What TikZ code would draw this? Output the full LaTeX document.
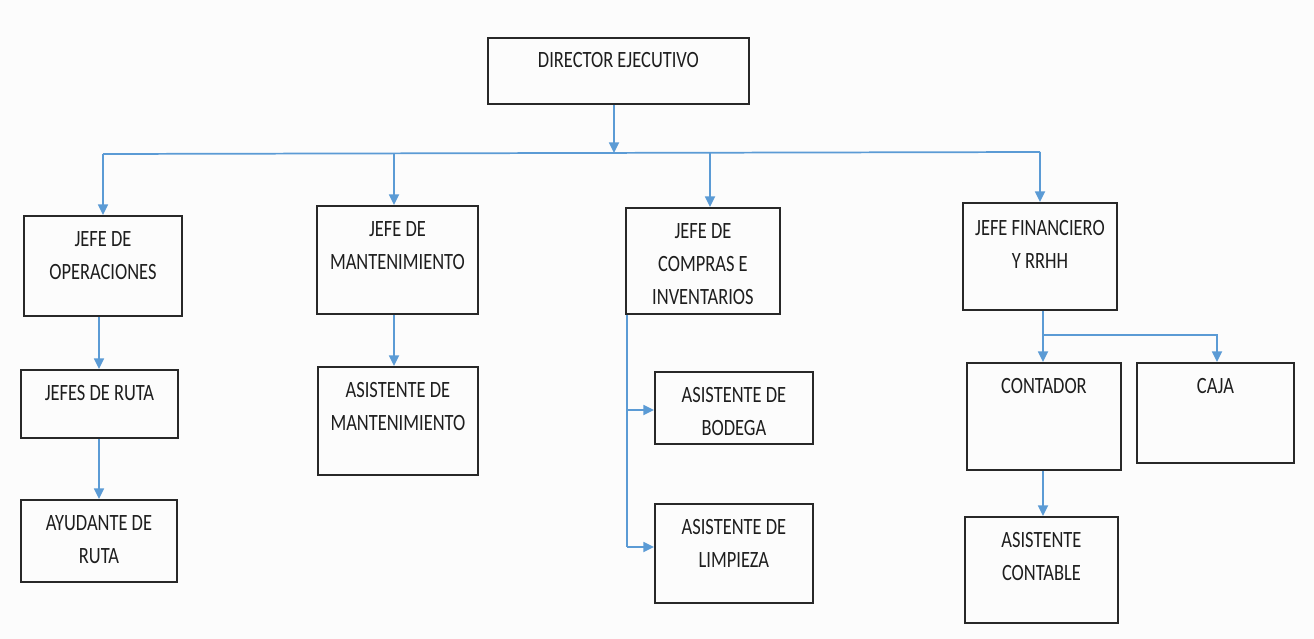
\documentclass[tikz,border=0pt]{standalone}
\usepackage{fontspec}
\setmainfont{Carlito}[FakeStretch=0.79]
\usetikzlibrary{arrows.meta}
\definecolor{connblue}{RGB}{91,155,213}
\definecolor{boxline}{RGB}{40,40,40}
\definecolor{txt}{RGB}{30,30,30}
\definecolor{bg}{RGB}{252,252,252}
\tikzset{
  orgbox/.style={draw=boxline, line width=1.4pt, inner sep=0pt, fill=none},
  orgtext/.style={anchor=base, align=center, text=txt, inner sep=0pt,
    font=\fontsize{17.5}{24.5}\selectfont},
  conn/.style={draw=connblue, line width=1.3pt, -{Triangle[length=8pt,width=7.5pt]}},
  bus/.style={draw=connblue, line width=1.3pt},
}
% name, x1, y1, x2, y2 (pixel coordinates)
\newcommand\mkbox[5]{%
  \node[orgbox, anchor=north west, minimum width={(#4-#2)*0.75pt},
        minimum height={(#5-#3)*0.75pt}] (#1) at (#2,#3) {};}
% name, box, offset of the LAST baseline below the box top, text
\newcommand\mktext[4]{%
  \path (#2.north) ++(0,#3) node[orgtext] (#1) {#4};}
\begin{document}
\begin{tikzpicture}[x=0.75pt,y=-0.75pt]
\fill[bg] (0,0) rectangle (1314,639);
\useasboundingbox (0,0) rectangle (1314,639);

\mkbox{dir}{487}{37}{748}{103}
\mkbox{ops}{23}{215}{181}{315}
\mkbox{mant}{316}{205}{477}{313}
\mkbox{comp}{625}{207}{779}{313}
\mkbox{fin}{962}{202}{1116}{309}
\mkbox{ruta}{20}{369}{177}{437}
\mkbox{ayud}{20}{499}{176}{581}
\mkbox{amant}{317}{366}{477}{474}
\mkbox{bod}{654}{371}{812}{443}
\mkbox{limp}{654}{503}{812}{602}
\mkbox{cont}{966}{362}{1120}{469}
\mkbox{caja}{1136}{362}{1293}{462}
\mkbox{acont}{964}{516}{1117}{622}

\mktext{tdir}{dir}{30}{DIRECTOR EJECUTIVO}
\mktext{tops}{ops}{64}{JEFE DE\\OPERACIONES}
\mktext{tmant}{mant}{64}{JEFE DE\\MANTENIMIENTO}
\mktext{tcomp}{comp}{97}{JEFE DE\\COMPRAS E\\INVENTARIOS}
\mktext{tfin}{fin}{66}{JEFE FINANCIERO\\Y RRHH}
\mktext{truta}{ruta}{31}{JEFES DE RUTA}
\mktext{tayud}{ayud}{64}{AYUDANTE DE\\RUTA}
\mktext{tamant}{amant}{64}{ASISTENTE DE\\MANTENIMIENTO}
\mktext{tbod}{bod}{64}{ASISTENTE DE\\BODEGA}
\mktext{tlimp}{limp}{64}{ASISTENTE DE\\LIMPIEZA}
\mktext{tcont}{cont}{31}{CONTADOR}
\mktext{tcaja}{caja}{31}{CAJA}
\mktext{tacont}{acont}{64}{ASISTENTE\\CONTABLE}

% top bus
\coordinate (bmid) at (614,153);
\coordinate (b1) at (103,154);
\coordinate (b2) at (394,154);
\coordinate (b3) at (710,153);
\coordinate (b4) at (1040,152);
\draw[bus] (b1) -- (b4);
\draw[conn] (bmid |- dir.south) -- (bmid);
\draw[conn] (b1) -- (b1 |- ops.north);
\draw[conn] (b2) -- (b2 |- mant.north);
\draw[conn] (b3) -- (b3 |- comp.north);
\draw[conn] (b4) -- (b4 |- fin.north);

% operaciones chain
\coordinate (oc) at (99,0);
\draw[conn] (oc |- ops.south) -- (oc |- ruta.north);
\draw[conn] (oc |- ruta.south) -- (oc |- ayud.north);

% mantenimiento
\coordinate (mc) at (394,0);
\draw[conn] (mc |- mant.south) -- (mc |- amant.north);

% compras
\coordinate (cc) at (627,0);
\coordinate (cb) at (0,410);
\coordinate (cl) at (0,547);
\draw[bus] (cc |- comp.south) -- (cc |- cl);
\draw[conn] (cc |- cb) -- (bod.west |- cb);
\draw[conn] (cc |- cl) -- (limp.west |- cl);

% financiero
\coordinate (fc) at (1043,0);
\coordinate (fj) at (1043,335);
\coordinate (kc) at (1217,0);
\draw[conn] (fc |- fin.south) -- (fc |- cont.north);
\draw[conn] (fj) -| (kc |- caja.north);
\draw[conn] (fc |- cont.south) -- (fc |- acont.north);
\end{tikzpicture}
\end{document}
